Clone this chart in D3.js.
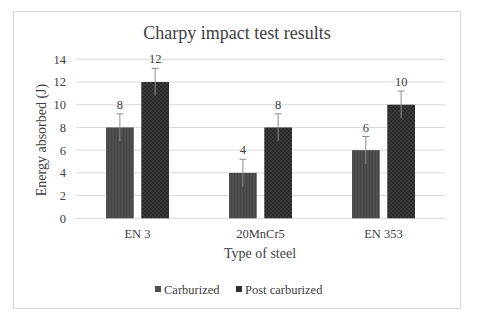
<!DOCTYPE html>
<html><head><meta charset="utf-8">
<script src="https://cdn.jsdelivr.net/npm/d3@7"></script>
<style>body{margin:0;background:#fff}svg{display:block}</style>
</head><body>
<script>
const categories = ["EN 3", "20MnCr5", "EN 353"];
const seriesNames = ["Carburized", "Post carburized"];
const carburized = [8, 4, 6];
const postCarburized = [12, 8, 10];
const errors = [1.2, 1.2];
const yTicks = [0, 2, 4, 6, 8, 10, 12, 14];
const title = "Charpy impact test results";
const xTitle = "Type of steel";
const yTitle = "Energy absorbed (J)";

const W = 488, H = 317;
const svg = d3.select("body").append("svg").attr("width", W).attr("height", H);
const font = "'Liberation Serif', 'Times New Roman', serif";

const defs = svg.append("defs");
const p1 = defs.append("pattern").attr("id", "pat1").attr("patternUnits", "userSpaceOnUse").attr("width", 3).attr("height", 3);
p1.append("rect").attr("width", 3).attr("height", 3).attr("fill", "#4f4f4f");
p1.append("rect").attr("width", 1).attr("height", 3).attr("fill", "#444");
const p2 = defs.append("pattern").attr("id", "pat2").attr("patternUnits", "userSpaceOnUse").attr("width", 4).attr("height", 4);
p2.append("rect").attr("width", 4).attr("height", 4).attr("fill", "#2a2a2a");
p2.append("rect").attr("width", 2).attr("height", 2).attr("fill", "#3a3a3a");
p2.append("rect").attr("x", 2).attr("y", 2).attr("width", 2).attr("height", 2).attr("fill", "#3a3a3a");
const fills = ["url(#pat1)", "url(#pat2)"];
const legendFills = ["#4d4d4d", "#2e2e2e"];

// outer border
svg.append("rect").attr("x", 13.5).attr("y", 11.5).attr("width", 447).attr("height", 297)
  .attr("fill", "#fff").attr("stroke", "#d9d9d9");

const x0 = d3.scaleBand().domain(categories).range([76, 445]);
const y = d3.scaleLinear().domain([0, 14]).range([218.3, 59.3]);

// gridlines
svg.append("g").selectAll("line").data(yTicks).join("line")
  .attr("x1", 76).attr("x2", 445).attr("y1", d => y(d)).attr("y2", d => y(d))
  .attr("stroke", "#d9d9d9").attr("stroke-width", 1);

// y tick labels
svg.append("g").selectAll("text").data(yTicks).join("text")
  .attr("x", 66).attr("y", d => y(d)).attr("dy", "0.35em").attr("text-anchor", "end")
  .attr("font-family", font).attr("font-size", 12.5).attr("fill", "#404040").text(d => d);

const data = [carburized, postCarburized];
const groupW = 63;
categories.forEach((c, ci) => {
  const cx = x0(c) + x0.bandwidth() / 2;
  const x1 = d3.scaleBand().domain(seriesNames).range([cx - groupW / 2, cx + groupW / 2]).paddingInner(0.214);
  seriesNames.forEach((s, si) => {
    const v = data[si][ci];
    const bx = x1(s), bw = x1.bandwidth();
    svg.append("rect").attr("x", bx).attr("y", y(v)).attr("width", bw).attr("height", y(0) - y(v))
      .attr("fill", fills[si]);
    const mx = bx + bw / 2;
    const e = errors[si];
    svg.append("line").attr("x1", mx).attr("x2", mx).attr("y1", y(v - e)).attr("y2", y(v + e))
      .attr("stroke", "#8c8c8c").attr("stroke-width", 1);
    svg.append("line").attr("x1", mx - 3.5).attr("x2", mx + 3.5).attr("y1", y(v + e)).attr("y2", y(v + e))
      .attr("stroke", "#8c8c8c").attr("stroke-width", 1);
    svg.append("text").attr("x", mx).attr("y", y(v + e) - 5).attr("text-anchor", "middle")
      .attr("font-family", font).attr("font-size", 12.5).attr("fill", "#404040").text(v);
  });
  svg.append("text").attr("x", cx).attr("y", 237.5).attr("text-anchor", "middle")
    .attr("font-family", font).attr("font-size", 12.5).attr("fill", "#404040").text(c);
});

// title
svg.append("text").attr("x", 237).attr("y", 39).attr("text-anchor", "middle")
  .attr("font-family", font).attr("font-size", 18).attr("fill", "#404040").text(title);
// axis titles
svg.append("text").attr("x", 260).attr("y", 258).attr("text-anchor", "middle")
  .attr("font-family", font).attr("font-size", 14).attr("fill", "#404040").text(xTitle);
svg.append("text").attr("transform", "translate(46,140) rotate(-90)").attr("text-anchor", "middle")
  .attr("font-family", font).attr("font-size", 14).attr("fill", "#404040").text(yTitle);

// legend
const legX = [155, 236];
seriesNames.forEach((s, i) => {
  svg.append("rect").attr("x", legX[i]).attr("y", 286).attr("width", 6).attr("height", 6).attr("fill", legendFills[i]);
  svg.append("text").attr("x", legX[i] + 9).attr("y", 293.5).attr("font-family", font).attr("font-size", 12.5)
    .attr("fill", "#404040").text(s);
});
</script>
</body></html>
